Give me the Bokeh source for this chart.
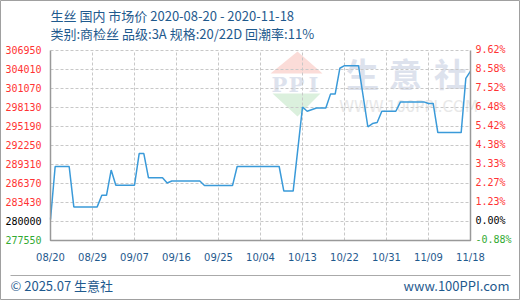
import pandas as pd
from bokeh.plotting import figure
from bokeh.models import (ColumnDataSource, Range1d, Label, LabelSet, PolyAnnotation)
from bokeh.core.properties import value
from bokeh.embed import file_html
from bokeh.resources import INLINE

title_line1 = "生丝 国内 市场价 2020-08-20 - 2020-11-18"
title_line2 = "类别:商检丝 品级:3A 规格:20/22D 回潮率:11%"
footer_left = "© 2025.07 生意社"
footer_right = "www.100PPI.com"

dates = ["2020-08-20", "2020-08-21", "2020-08-24", "2020-08-25", "2020-08-30",
         "2020-08-31", "2020-09-01", "2020-09-02", "2020-09-03", "2020-09-07",
         "2020-09-08", "2020-09-09", "2020-09-10", "2020-09-13", "2020-09-14",
         "2020-09-15", "2020-09-21", "2020-09-22", "2020-09-28", "2020-09-29",
         "2020-10-08", "2020-10-09", "2020-10-11", "2020-10-13", "2020-10-14",
         "2020-10-16", "2020-10-18", "2020-10-19", "2020-10-20", "2020-10-21",
         "2020-10-22", "2020-10-25", "2020-10-27", "2020-10-28", "2020-10-29",
         "2020-10-30", "2020-11-02", "2020-11-03", "2020-11-08", "2020-11-09",
         "2020-11-10", "2020-11-11", "2020-11-16", "2020-11-17", "2020-11-18"]
prices = [280800, 289000, 289000, 282750, 282750,
          284550, 284550, 288450, 286100, 286100,
          291000, 291000, 287250, 287250, 286450,
          286750, 286750, 286050, 286050, 289000,
          289000, 285200, 285200, 298200, 297550,
          298050, 298050, 300200, 300200, 304200,
          304600, 304600, 295150, 295650, 295800,
          297550, 297550, 299000, 299000, 298750,
          298750, 294250, 294250, 302650, 303750]

x_tick_dates = ["2020-08-20", "2020-08-29", "2020-09-07", "2020-09-16", "2020-09-25",
                "2020-10-04", "2020-10-13", "2020-10-22", "2020-10-31", "2020-11-09",
                "2020-11-18"]
x_tick_labels = ["08/20", "08/29", "09/07", "09/16", "09/25", "10/04",
                 "10/13", "10/22", "10/31", "11/09", "11/18"]
y_ticks = [277550, 280490, 283430, 286370, 289310, 292250, 295190, 298130, 301070, 304010, 306950]
y_tick_labels = ["277550", "280000", "283430", "286370", "289310", "292250",
                 "295190", "298130", "301070", "304010", "306950"]
pct_tick_labels = ["-0.88%", "0.00%", "1.23%", "2.27%", "3.33%", "4.38%",
                   "5.42%", "6.48%", "7.52%", "8.58%", "9.62%"]

RED, BLACK, GREEN = "#ff3333", "#000000", "#33aa33"
label_colors = [GREEN, BLACK] + [RED] * (len(y_ticks) - 2)
BLUE_TXT = "#1f5a8e"
AXIS_GRAY = "#999999"
GRID_GRAY = "#c8c8c8"
W, H = 520, 300
# plot box inside the canvas (pixels from left / top)
BOX_L, BOX_R, BOX_T, BOX_B = 50, 470, 50, 240

xt = pd.to_datetime(x_tick_dates)
x0, x1 = xt[0], xt[-1]
px_per_ns = (BOX_R - BOX_L) / (x1 - x0).value
xr = Range1d(x0 - pd.Timedelta(BOX_L / px_per_ns, "ns"),
             x1 + pd.Timedelta((W - BOX_R) / px_per_ns, "ns"))
y0, y1 = y_ticks[0], y_ticks[-1]
u_per_px = (y1 - y0) / (BOX_B - BOX_T)
yr = Range1d(y0 - (H - BOX_B) * u_per_px, y1 + BOX_T * u_per_px)

p = figure(width=W, height=H, output_backend="svg", toolbar_location=None,
           x_axis_type="datetime", x_range=xr, y_range=yr,
           min_border=0, min_border_left=0, min_border_right=0,
           min_border_top=0, min_border_bottom=0)
p.axis.visible = False
p.grid.visible = False
p.background_fill_color = "white"
p.border_fill_color = "white"
p.outline_line_color = "#a0a0a0"
p.outline_line_width = 1

# watermark (behind everything)
wm = "#dde2ed"
p.add_layout(PolyAnnotation(xs=[270, 297, 322], ys=[H - 73, H - 51, H - 73], xs_units="screen",
                            ys_units="screen", fill_color="#fbdcd8", fill_alpha=1,
                            line_color=None, level="image"))
p.add_layout(PolyAnnotation(xs=[272, 320, 297], ys=[H - 93, H - 93, H - 116], xs_units="screen",
                            ys_units="screen", fill_color="#dbf0dd", fill_alpha=1,
                            line_color=None, level="image"))
for cx, ch in zip([279, 296, 313], "PPI"):
    p.add_layout(Label(x=cx, y=H - 84, x_units="screen", y_units="screen", text=ch,
                       text_font="DejaVu Serif", text_font_size="21px", text_font_style="bold",
                       text_color=wm, text_align="center", text_baseline="middle",
                       level="image"))
for cx, ch in zip([362, 405, 450], "生意社"):
    p.add_layout(Label(x=cx, y=H - 72, x_units="screen", y_units="screen", text=ch,
                       text_font="Noto Sans CJK SC", text_font_size="33px",
                       text_font_style="bold", text_color=wm, text_align="center",
                       text_baseline="middle", level="image"))
p.add_layout(Label(x=408, y=H - 106, x_units="screen", y_units="screen", text="WWW.100PPI.COM",
                   text_font="DejaVu Sans", text_font_size="15px",
                   text_color="#e8e8e8", text_align="center", text_baseline="middle",
                   level="image"))

# grid lines (dashed) through data scales; the top one doubles as the top border
p.segment(x0=x0, x1=x1, y0=y_ticks[1:], y1=y_ticks[1:],
          line_color=GRID_GRAY, line_dash="3 2", line_width=1)
p.segment(x0=xt[1:-1], x1=xt[1:-1], y0=y0, y1=y1,
          line_color=GRID_GRAY, line_dash="3 2", line_width=1)

# data line
src = ColumnDataSource(dict(x=pd.to_datetime(dates), y=prices))
p.line(x="x", y="y", source=src, line_color="#3a9ad9", line_width=1.5)

# axes: left, bottom and right solid lines
p.line(x=[x0, x0, x1, x1], y=[y1, y0, y0, y1], line_color=AXIS_GRAY, line_width=1.5)

# axis tick labels with individual colours
lsrc = ColumnDataSource(dict(y=y_ticks, t=y_tick_labels, pt=pct_tick_labels, c=label_colors))
p.add_layout(LabelSet(x=41, y="y", x_units="screen", text="t", source=lsrc,
                      text_color="c", text_font=value("DejaVu Sans Mono"),
                      text_font_size="10px", text_align="right", text_baseline="middle",
                      y_offset=1))
p.add_layout(LabelSet(x=475, y="y", x_units="screen", text="pt", source=lsrc,
                      text_color="c", text_font=value("DejaVu Sans Mono"),
                      text_font_size="10px", text_align="left", text_baseline="middle",
                      y_offset=1))
xsrc = ColumnDataSource(dict(x=xt, t=x_tick_labels))
p.add_layout(LabelSet(x="x", y=H - 257, y_units="screen", text="t", source=xsrc,
                      text_color=BLUE_TXT, text_font=value("DejaVu Sans"),
                      text_font_size="10px", text_align="center", text_baseline="middle"))

# titles and footer
for txt, yy in ((title_line1, H - 15), (title_line2, H - 33)):
    p.add_layout(Label(x=50, y=yy, x_units="screen", y_units="screen", text=txt,
                       text_font="Noto Sans CJK SC", text_font_size="13px",
                       text_color=BLUE_TXT, text_baseline="middle"))
p.add_layout(Label(x=10, y=15, x_units="screen", y_units="screen", text=footer_left,
                   text_font="Noto Sans CJK SC", text_font_size="13px",
                   text_color=BLUE_TXT, text_baseline="middle"))
p.add_layout(Label(x=509, y=15, x_units="screen", y_units="screen", text=footer_right,
                   text_font="Noto Sans CJK SC", text_font_size="13px",
                   text_color=BLUE_TXT, text_align="right", text_baseline="middle"))
p.add_layout(PolyAnnotation(xs=[10, 510, 510, 10], ys=[25.5, 25.5, 24.5, 24.5], xs_units="screen",
                            ys_units="screen", fill_color="#aaaaaa", fill_alpha=1,
                            line_color=None))

open("out.html", "w").write(file_html(p, INLINE))
